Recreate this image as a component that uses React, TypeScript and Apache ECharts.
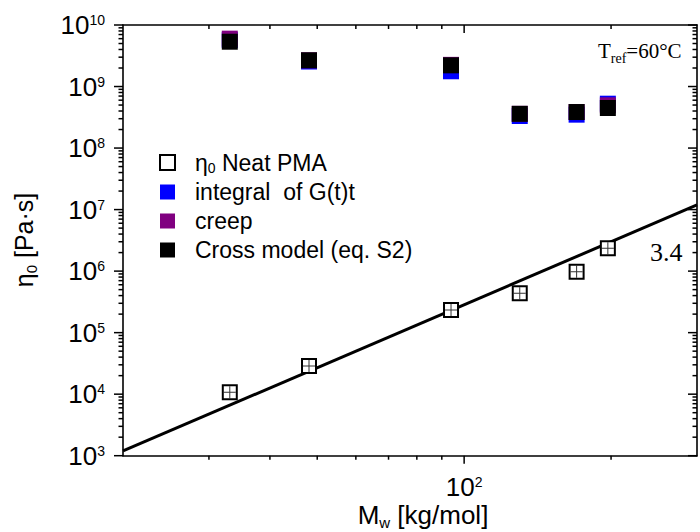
import React, { useEffect, useRef } from "react";
import * as echarts from "echarts";

// ---- data ----
const molarMass = [33.1, 48.1, 94.0, 130, 170, 197]; // kg/mol
const neatEta0 = [1.07e4, 2.87e4, 2.33e5, 4.36e5, 9.8e5, 2.35e6];
const integralEta0 = [5.7e9, 2.55e9, 1.77e9, 3.32e8, 3.49e8, 5.26e8];
const creepEta0 = [6.0e9, 2.67e9, 2.25e9, 3.6e8, 3.85e8, 4.95e8];
const crossEta0 = [5.35e9, 2.67e9, 2.21e9, 3.6e8, 3.85e8, 4.48e8];
const fitMolarMass = [20, 300];
const fitEta0 = [1.194e3, 1.19e7];
const seriesNames = ["η0 Neat PMA", "integral  of G(t)t", "creep", "Cross model (eq. S2)"];
const xMajorTicks = [100];
const xMinorTicks = [30, 40, 50, 60, 70, 80, 90, 200];
const yMajorTicks = [1e3, 1e4, 1e5, 1e6, 1e7, 1e8, 1e9, 1e10];
const yMinorMultipliers = [2, 3, 4, 5, 6, 7, 8, 9];
const X_MIN = 20, X_MAX = 300, Y_MIN = 1e3, Y_MAX = 1e10;

const SANS = "Liberation Sans, Arial, sans-serif";
const SERIF = "Liberation Serif, Times New Roman, serif";

const isPow10 = (v: number) => {
  const l = Math.log10(v);
  return Math.abs(l - Math.round(l)) < 1e-6;
};
const powLabel = (v: number) =>
  isPow10(v) ? `{b|10}{s|${Math.round(Math.log10(v))}}` : "";

export default function App() {
  const ref = useRef<HTMLDivElement>(null);
  useEffect(() => {
    if (!ref.current) return;
    const chart = echarts.init(ref.current, undefined, { renderer: "svg" });

    const pts = (ys: number[]) => molarMass.map((m, i) => [m, ys[i]]);
    const tickData: number[][] = [];
    xMajorTicks.forEach((x) => tickData.push([x, Y_MIN, 0]));
    xMinorTicks.forEach((x) => tickData.push([x, Y_MIN, 1]));
    yMajorTicks.forEach((y) => tickData.push([X_MIN, y, 2]));
    yMajorTicks.slice(0, -1).forEach((y) =>
      yMinorMultipliers.forEach((m) => tickData.push([X_MIN, y * m, 3]))
    );

    const labelRich = {
      b: { fontSize: 26, fontFamily: SANS, color: "#000", lineHeight: 24 },
      s: { fontSize: 14, fontFamily: SANS, color: "#000", verticalAlign: "top", lineHeight: 12 },
    };

    const option: any = {
      animation: false,
      backgroundColor: "#fff",
      grid: { left: 123, top: 25, right: -7.5, bottom: 76.3 },
      xAxis: [
        {
          type: "log", min: X_MIN, max: X_MAX, logBase: 10,
          axisLine: { show: true, lineStyle: { color: "#000", width: 1.6 } },
          axisTick: { show: false }, splitLine: { show: false },
          axisLabel: { margin: 19, formatter: powLabel, rich: labelRich, showMinLabel: true, showMaxLabel: true },
        },
        {
          type: "log", min: X_MIN, max: X_MAX, logBase: 10, position: "top",
          axisLine: { show: true, onZero: false, lineStyle: { color: "#000", width: 1.6 } },
          axisTick: { show: false }, splitLine: { show: false }, axisLabel: { show: false },
        },
      ],
      yAxis: [
        {
          type: "log", min: Y_MIN, max: Y_MAX, logBase: 10,
          axisLine: { show: true, lineStyle: { color: "#000", width: 1.6 } },
          axisTick: { show: false }, splitLine: { show: false },
          axisLabel: { margin: 18, formatter: powLabel, rich: labelRich },
        },
        {
          type: "log", min: Y_MIN, max: Y_MAX, logBase: 10, position: "right",
          axisLine: { show: true, onZero: false, lineStyle: { color: "#000", width: 1.6 } },
          axisTick: { show: false }, splitLine: { show: false }, axisLabel: { show: false },
        },
      ],
      legend: {
        data: seriesNames,
        orient: "vertical",
        left: 154, top: 146,
        itemWidth: 15, itemHeight: 15, itemGap: 6,
        formatter: (name: string) =>
          name === seriesNames[0] ? "{a|η}{sub|0}{a| Neat PMA}" : `{a|${name}}`,
        textStyle: {
          fontSize: 23, fontFamily: SANS, color: "#000", padding: [0, 0, 0, 15],
          rich: {
            a: { fontSize: 23, fontFamily: SANS, color: "#000", lineHeight: 24 },
            sub: { fontSize: 14, fontFamily: SANS, color: "#000", lineHeight: 14, verticalAlign: "bottom" },
          },
        },
      },
      series: [
        {
          name: "fit", type: "line", data: fitMolarMass.map((m, i) => [m, fitEta0[i]]),
          showSymbol: false, symbol: "none", lineStyle: { color: "#000", width: 3 }, z: 2, silent: true,
        },
        {
          name: seriesNames[0], type: "scatter", data: pts(neatEta0), symbol: "rect", symbolSize: 14,
          itemStyle: { color: "#fff", borderColor: "#000", borderWidth: 2, opacity: 1 }, z: 3,
        },
        {
          name: "neat-err", type: "scatter", data: pts(neatEta0),
          symbol: "path://M0,5.5H12V6.5H0Z M5.5,0H6.5V12H5.5Z", symbolSize: 12,
          itemStyle: { color: "#000" }, z: 4, silent: true,
        },
        {
          name: seriesNames[1], type: "scatter", data: pts(integralEta0), symbol: "rect", symbolSize: 16,
          itemStyle: { color: "#0000ff", opacity: 1 }, z: 5,
        },
        {
          name: seriesNames[2], type: "scatter", data: pts(creepEta0), symbol: "rect", symbolSize: 16,
          itemStyle: { color: "#800080", opacity: 1 }, z: 6,
        },
        {
          name: seriesNames[3], type: "scatter", data: pts(crossEta0), symbol: "rect", symbolSize: 16,
          itemStyle: { color: "#000", opacity: 1 }, z: 7,
        },
        {
          name: "ticks", type: "custom", coordinateSystem: "cartesian2d", silent: true, clip: false, z: 10,
          encode: { x: 0, y: 1 },
          data: tickData,
          renderItem: (params: any, api: any) => {
            const cs = params.coordSys;
            const kind = api.value(2);
            const p = api.coord([api.value(0), api.value(1)]);
            const st = { stroke: "#000", lineWidth: 1.5 };
            if (kind < 2) {
              const len = kind === 0 ? 8 : 4;
              const b = cs.y + cs.height;
              return {
                type: "group",
                children: [
                  { type: "line", shape: { x1: p[0], y1: b, x2: p[0], y2: b + len }, style: st },
                  { type: "line", shape: { x1: p[0], y1: cs.y, x2: p[0], y2: cs.y + len }, style: st },
                ],
              };
            }
            const len = kind === 2 ? 9 : 4.5;
            const r = cs.x + cs.width;
            return {
              type: "group",
              children: [
                { type: "line", shape: { x1: cs.x - len, y1: p[1], x2: cs.x, y2: p[1] }, style: st },
                { type: "line", shape: { x1: r - len, y1: p[1], x2: r, y2: p[1] }, style: st },
              ],
            };
          },
        },
      ],
      graphic: [
        {
          type: "text", x: 24, y: 240, rotation: Math.PI / 2,
          style: {
            text: "{a|η}{s|0}{a| [Pa·s]}", align: "center", verticalAlign: "middle",
            rich: {
              a: { fontSize: 25, fontFamily: SANS, fill: "#000", lineHeight: 30 },
              s: { fontSize: 15, fontFamily: SANS, fill: "#000", lineHeight: 14, verticalAlign: "bottom" },
            },
          },
        },
        {
          type: "text", x: 423, y: 515,
          style: {
            text: "{a|M}{s|w}{a| [kg/mol]}", align: "center", verticalAlign: "middle",
            rich: {
              a: { fontSize: 26, fontFamily: SANS, fill: "#000", lineHeight: 30 },
              s: { fontSize: 15, fontFamily: SANS, fill: "#000", lineHeight: 13, verticalAlign: "bottom" },
            },
          },
        },
        {
          type: "text", x: 598, y: 51,
          style: {
            text: "{a|T}{s|ref}{a|=60°C}", align: "left", verticalAlign: "middle",
            rich: {
              a: { fontSize: 21, fontFamily: SERIF, fill: "#000", lineHeight: 28 },
              s: { fontSize: 14, fontFamily: SERIF, fill: "#000", lineHeight: 13, verticalAlign: "bottom" },
            },
          },
        },
        {
          type: "text", x: 650, y: 252,
          style: { text: "3.4", align: "left", verticalAlign: "middle", fontSize: 26, fontFamily: SERIF, fill: "#000" },
        },
      ],
    };
    chart.setOption(option);
    return () => chart.dispose();
  }, []);
  return (
    <div style={{ position: "fixed", left: 0, top: 0, width: 700, height: 532, overflow: "hidden", background: "#fff" }}>
      <div ref={ref} style={{ width: 700, height: 532 }} />
    </div>
  );
}
